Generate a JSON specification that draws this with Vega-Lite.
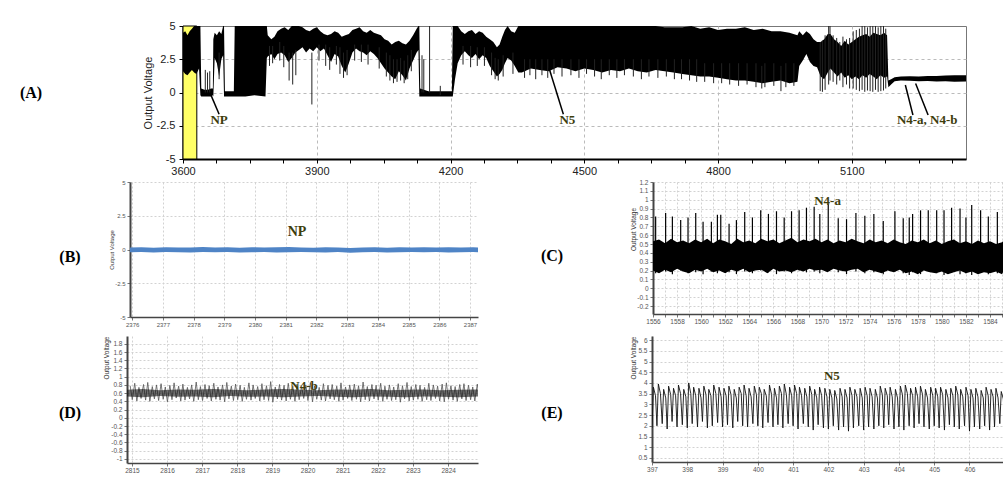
{
"$schema":"https://vega.github.io/schema/vega-lite/v6.json",
"padding":{"left":0,"top":19,"right":0,"bottom":0},
"background":"white",
"spacing":0,
"config":{
 "view":{"stroke":null},
 "axis":{"labelFont":"Liberation Sans","titleFont":"Liberation Sans","titleFontWeight":"normal","labelFontSize":6.5,"labelColor":"#555","titleFontSize":6.5,"titleColor":"#333","tickSize":3,"tickColor":"#777","labelPadding":1,"domainColor":"#444","domainWidth":1.5,"grid":true,"gridColor":"#d2d2d2","gridDash":[2,2],"labelFlush":false,"labelOverlap":false}
},
"vconcat":[
{"bounds":"flush","spacing":0,"hconcat":[
 {"width":62,"height":153,"data":{"values":[{"s":"(A)"}]},"mark":{"type":"text","font":"Liberation Serif","fontSize":16,"fontWeight":"bold","color":"#000","dy":-9.5},"encoding":{"text":{"field":"s"}}},
 {"width":121,"height":153,"data":{"values":[{"s":""}]},"mark":{"type":"text"},"encoding":{"text":{"field":"s"}}},
 {"width":783,"height":133,"view":{"stroke":"#777","strokeWidth":1},
  "encoding":{
   "x":{"field":"t","type":"quantitative","scale":{"domain":[3600,5356],"nice":false,"zero":false},"axis":{"title":null,"values":[3600,3675,3750,3825,3900,3975,4050,4125,4200,4275,4350,4425,4500,4575,4650,4725,4800,4875,4950,5025,5100,5175,5250,5325],"labelExpr":"datum.value % 300 === 0 ? '' + datum.value : ''","labelFontSize":11,"labelColor":"#222","tickColor":"#000","tickSize":4,"labelPadding":2,"domainColor":"#000","domainWidth":2,"gridColor":"#bbb","gridDash":[3,3],"gridOpacity":{"condition":{"test":"datum.value % 300 === 0 && datum.value > 3600","value":1},"value":0}}},
   "y":{"field":"v","type":"quantitative","scale":{"domain":[-5,5],"nice":false,"zero":false},"axis":{"title":"Output Voltage","titleFontSize":11,"titleColor":"#222","titlePadding":3,"values":[-5,-2.5,0,2.5,5],"labelExpr":"'' + datum.value","labelFontSize":11,"labelColor":"#222","tickColor":"#000","tickSize":4,"labelPadding":4,"domainColor":"#000","domainWidth":2,"gridColor":"#bbb","gridDash":[3,3],"gridOpacity":{"condition":{"test":"abs(datum.value) < 5","value":1},"value":0}}}
  },
  "layer":[
   {"data":{"values":[{"t":3600,"t2":3631,"v":-5,"w":5}]},"mark":{"type":"rect","fill":"#ffff66","stroke":"#000","strokeWidth":1},"encoding":{"x2":{"field":"t2"},"y2":{"field":"w"}}},
   {"data":{"values":[
{"t":3600,"v":1.6,"w":4.5},{"t":3605,"v":1.4,"w":4.6},{"t":3610,"v":1.3,"w":4.3},{"t":3615,"v":1.5,"w":4.6},{"t":3620,"v":1.7,"w":4.8},{"t":3625,"v":1.5,"w":5},{"t":3630,"v":1.4,"w":5},{"t":3636,"v":1.8,"w":5},{"t":3639,"v":-0.2,"w":5},{"t":3641,"v":-0.3,"w":0.3},{"t":3648,"v":-0.3,"w":0.2},{"t":3656,"v":-0.3,"w":0.2},{"t":3663,"v":-0.3,"w":0.3},{"t":3667,"v":-0.2,"w":0.3},{"t":3668,"v":-0.3,"w":4.0},{"t":3671,"v":2.6,"w":4.5},{"t":3676,"v":2.2,"w":4.3},{"t":3681,"v":1.2,"w":4.6},{"t":3686,"v":2.5,"w":4.4},{"t":3690,"v":2.8,"w":5},{"t":3692,"v":-0.3,"w":5},{"t":3694,"v":-0.3,"w":0.1},{"t":3714,"v":-0.3,"w":0.1},{"t":3716,"v":-0.3,"w":5},{"t":3740,"v":-0.3,"w":5},{"t":3760,"v":-0.2,"w":5},{"t":3785,"v":-0.3,"w":5},{"t":3788,"v":2.6,"w":5},{"t":3790,"v":2.7,"w":4.3},{"t":3798,"v":2.9,"w":4.0},{"t":3805,"v":2.5,"w":4.2},{"t":3812,"v":2.9,"w":4.6},{"t":3820,"v":3.0,"w":4.8},{"t":3828,"v":2.8,"w":4.9},{"t":3836,"v":2.3,"w":4.7},{"t":3844,"v":2.6,"w":5},{"t":3852,"v":3.0,"w":5},{"t":3860,"v":3.2,"w":5},{"t":3868,"v":3.4,"w":4.9},{"t":3876,"v":3.0,"w":4.7},{"t":3884,"v":3.3,"w":4.6},{"t":3892,"v":3.1,"w":4.8},{"t":3900,"v":3.4,"w":4.9},{"t":3908,"v":3.1,"w":4.6},{"t":3916,"v":3.3,"w":4.4},{"t":3924,"v":2.8,"w":4.3},{"t":3932,"v":2.3,"w":4.4},{"t":3940,"v":2.9,"w":4.6},{"t":3948,"v":2.7,"w":4.5},{"t":3956,"v":2.0,"w":4.2},{"t":3964,"v":1.5,"w":4.3},{"t":3972,"v":2.2,"w":4.4},{"t":3980,"v":3.0,"w":4.7},{"t":3988,"v":3.3,"w":4.8},{"t":3996,"v":3.1,"w":4.9},{"t":4004,"v":3.0,"w":4.6},{"t":4012,"v":2.8,"w":4.5},{"t":4020,"v":3.1,"w":4.7},{"t":4028,"v":2.9,"w":4.5},{"t":4036,"v":2.6,"w":4.4},{"t":4044,"v":2.2,"w":4.3},{"t":4052,"v":1.8,"w":4.0},{"t":4060,"v":1.5,"w":3.9},{"t":4068,"v":1.2,"w":3.6},{"t":4076,"v":1.0,"w":3.8},{"t":4084,"v":1.6,"w":3.9},{"t":4092,"v":1.3,"w":3.7},{"t":4100,"v":0.9,"w":3.6},{"t":4108,"v":1.8,"w":3.9},{"t":4116,"v":2.4,"w":4.3},{"t":4124,"v":3.0,"w":4.8},{"t":4128,"v":3.2,"w":5},{"t":4130,"v":-0.3,"w":5},{"t":4132,"v":-0.3,"w":0.3},{"t":4150,"v":-0.3,"w":0.1},{"t":4170,"v":-0.3,"w":0.1},{"t":4190,"v":-0.3,"w":0.1},{"t":4203,"v":-0.3,"w":0.1},{"t":4205,"v":-0.3,"w":5},{"t":4210,"v":1.0,"w":5},{"t":4216,"v":2.2,"w":5},{"t":4224,"v":2.8,"w":4.6},{"t":4232,"v":3.1,"w":4.4},{"t":4240,"v":2.8,"w":4.6},{"t":4248,"v":2.6,"w":4.7},{"t":4256,"v":2.9,"w":4.4},{"t":4264,"v":2.5,"w":4.6},{"t":4272,"v":2.8,"w":4.5},{"t":4280,"v":2.6,"w":4.2},{"t":4288,"v":2.0,"w":4.0},{"t":4296,"v":1.6,"w":3.8},{"t":4304,"v":1.2,"w":3.4},{"t":4310,"v":1.4,"w":3.6},{"t":4316,"v":1.7,"w":4.2},{"t":4322,"v":2.2,"w":4.7},{"t":4328,"v":2.6,"w":5},{"t":4336,"v":2.4,"w":4.6},{"t":4344,"v":2.0,"w":4.5},{"t":4352,"v":1.5,"w":5},{"t":4360,"v":1.5,"w":5},{"t":4380,"v":1.8,"w":5},{"t":4400,"v":1.7,"w":5},{"t":4420,"v":1.6,"w":5},{"t":4440,"v":1.9,"w":5},{"t":4460,"v":1.8,"w":5},{"t":4480,"v":1.6,"w":5},{"t":4500,"v":1.8,"w":5},{"t":4520,"v":1.7,"w":5},{"t":4540,"v":1.5,"w":5},{"t":4560,"v":1.7,"w":5},{"t":4580,"v":1.6,"w":5},{"t":4600,"v":1.8,"w":5},{"t":4620,"v":1.6,"w":5},{"t":4640,"v":1.5,"w":5},{"t":4660,"v":1.7,"w":5},{"t":4680,"v":1.6,"w":4.9},{"t":4700,"v":1.5,"w":4.9},{"t":4720,"v":1.4,"w":4.9},{"t":4740,"v":1.3,"w":5},{"t":4760,"v":1.2,"w":4.8},{"t":4780,"v":1.2,"w":4.9},{"t":4800,"v":1.1,"w":4.7},{"t":4820,"v":1.0,"w":4.8},{"t":4840,"v":0.9,"w":4.8},{"t":4860,"v":0.9,"w":4.9},{"t":4880,"v":0.8,"w":4.7},{"t":4900,"v":0.7,"w":4.8},{"t":4920,"v":0.8,"w":4.6},{"t":4940,"v":0.9,"w":4.6},{"t":4960,"v":0.7,"w":4.5},{"t":4978,"v":0.8,"w":4.3},{"t":4982,"v":2.0,"w":4.6},{"t":4990,"v":2.4,"w":4.3},{"t":4998,"v":2.9,"w":4.6},{"t":5006,"v":2.3,"w":4.4},{"t":5014,"v":2.0,"w":4.0},{"t":5022,"v":1.9,"w":3.8},{"t":5030,"v":1.2,"w":3.8},{"t":5038,"v":1.0,"w":4.0},{"t":5046,"v":1.5,"w":4.4},{"t":5052,"v":1.8,"w":4.4},{"t":5060,"v":1.5,"w":4.0},{"t":5068,"v":1.2,"w":3.8},{"t":5076,"v":1.5,"w":3.5},{"t":5084,"v":1.1,"w":3.9},{"t":5092,"v":1.3,"w":3.6},{"t":5100,"v":1.0,"w":3.8},{"t":5108,"v":1.2,"w":4.0},{"t":5116,"v":1.0,"w":4.2},{"t":5124,"v":1.3,"w":4.3},{"t":5132,"v":1.1,"w":4.4},{"t":5140,"v":1.4,"w":4.2},{"t":5148,"v":1.2,"w":4.5},{"t":5156,"v":1.0,"w":4.4},{"t":5164,"v":1.3,"w":4.3},{"t":5172,"v":1.1,"w":4.5},{"t":5179,"v":1.2,"w":4.3},{"t":5182,"v":0.4,"w":0.9},{"t":5188,"v":0.6,"w":1.0},{"t":5196,"v":0.85,"w":1.15},{"t":5210,"v":0.9,"w":1.2},{"t":5230,"v":0.88,"w":1.22},{"t":5250,"v":0.85,"w":1.2},{"t":5270,"v":0.86,"w":1.25},{"t":5290,"v":0.82,"w":1.25},{"t":5310,"v":0.85,"w":1.28},{"t":5330,"v":0.8,"w":1.3},{"t":5356,"v":0.82,"w":1.3}
   ]},"mark":{"type":"area","color":"#000","clip":true},"encoding":{"y2":{"field":"w"}}},
   {"data":{"values":[{"t":3650,"v":0,"w":1.7},{"t":3655,"v":0,"w":1.5},{"t":3660,"v":0,"w":1.6},{"t":3681,"v":1.0,"w":3},{"t":3794,"v":2.0,"w":3.5},{"t":3801,"v":2.2,"w":3.5},{"t":3817,"v":2.4,"w":3.8},{"t":3826,"v":1.9,"w":3.5},{"t":3838,"v":0.9,"w":3},{"t":3846,"v":0.6,"w":3},{"t":3853,"v":1.3,"w":3.2},{"t":3889,"v":-0.9,"w":3},{"t":3905,"v":2.4,"w":3.6},{"t":3920,"v":2.0,"w":3.6},{"t":3929,"v":1.7,"w":3.4},{"t":3944,"v":2.1,"w":3.5},{"t":3952,"v":1.4,"w":3.4},{"t":3960,"v":1.1,"w":3.0},{"t":3968,"v":1.3,"w":3.2},{"t":3985,"v":2.4,"w":3.6},{"t":4000,"v":2.3,"w":3.6},{"t":4015,"v":2.1,"w":3.6},{"t":4040,"v":1.8,"w":3.4},{"t":4056,"v":1.2,"w":3.0},{"t":4064,"v":0.9,"w":2.8},{"t":4072,"v":0.7,"w":2.5},{"t":4080,"v":0.8,"w":2.5},{"t":4088,"v":0.9,"w":2.6},{"t":4096,"v":0.7,"w":2.4},{"t":4104,"v":1.0,"w":2.8},{"t":4112,"v":1.6,"w":3.2},{"t":4136,"v":0,"w":2.8},{"t":4140,"v":0,"w":2.5},{"t":4153,"v":0,"w":5},{"t":4177,"v":-0.2,"w":0.5},{"t":4228,"v":2.1,"w":3.5},{"t":4245,"v":1.9,"w":3.5},{"t":4260,"v":2.0,"w":3.4},{"t":4276,"v":2.0,"w":3.4},{"t":4292,"v":1.3,"w":3.0},{"t":4300,"v":1.0,"w":2.6},{"t":4307,"v":0.9,"w":2.5},{"t":4318,"v":1.2,"w":2.8},{"t":4340,"v":1.4,"w":3},{"t":4366,"v":1.1,"w":2.5},{"t":4378,"v":1.3,"w":2.5},{"t":4391,"v":1.0,"w":2.5},{"t":4405,"v":1.3,"w":2.5},{"t":4418,"v":1.1,"w":2.5},{"t":4432,"v":1.4,"w":2.5},{"t":4450,"v":1.2,"w":2.5},{"t":4470,"v":1.3,"w":2.5},{"t":4488,"v":1.1,"w":2.5},{"t":4505,"v":1.4,"w":2.5},{"t":4523,"v":1.2,"w":2.5},{"t":4538,"v":1.0,"w":2.5},{"t":4556,"v":1.3,"w":2.5},{"t":4573,"v":1.1,"w":2.5},{"t":4590,"v":1.3,"w":2.5},{"t":4610,"v":1.2,"w":2.5},{"t":4628,"v":1.0,"w":2.5},{"t":4645,"v":1.2,"w":2.5},{"t":4665,"v":1.1,"w":2.5},{"t":4684,"v":1.2,"w":2.5},{"t":4702,"v":1.0,"w":2.5},{"t":4718,"v":1.0,"w":2.5},{"t":4736,"v":0.9,"w":2.5},{"t":4752,"v":0.8,"w":2.5},{"t":4770,"v":0.8,"w":2.2},{"t":4790,"v":0.7,"w":2.2},{"t":4808,"v":0.7,"w":2.2},{"t":4826,"v":0.6,"w":2.2},{"t":4846,"v":0.5,"w":2.2},{"t":4865,"v":0.6,"w":2.2},{"t":4885,"v":0.4,"w":2.2},{"t":4898,"v":0.3,"w":2},{"t":4905,"v":0.4,"w":2.2},{"t":4925,"v":0.5,"w":2.2},{"t":4941,"v":0.1,"w":2},{"t":4952,"v":0.4,"w":2.2},{"t":4970,"v":0.5,"w":2.2},{"t":5029,"v":0.1,"w":3.8},{"t":5034,"v":0.05,"w":3.9},{"t":5040,"v":0.2,"w":4.3},{"t":5048,"v":0.6,"w":5},{"t":5051,"v":0.9,"w":5},{"t":5058,"v":0.8,"w":4.3},{"t":5066,"v":0.6,"w":4.1},{"t":5073,"v":0.9,"w":3.8},{"t":5080,"v":0.4,"w":4.2},{"t":5088,"v":0.6,"w":4.0},{"t":5095,"v":0.3,"w":4.1},{"t":5103,"v":0.3,"w":4.6},{"t":5110,"v":0.2,"w":4.7},{"t":5117,"v":0.1,"w":4.8},{"t":5123,"v":0.2,"w":5},{"t":5129,"v":0.05,"w":5},{"t":5135,"v":0.15,"w":4.9},{"t":5141,"v":0.1,"w":5},{"t":5147,"v":0.05,"w":5},{"t":5153,"v":0.2,"w":5},{"t":5159,"v":0.05,"w":4.9},{"t":5165,"v":0.1,"w":5},{"t":5171,"v":0.15,"w":5},{"t":5176,"v":0.3,"w":4.8}]},"mark":{"type":"rule","color":"#222","strokeWidth":1},"encoding":{"y2":{"field":"w"}}},
   {"data":{"values":[{"t":3662,"t2":3681,"v":-0.14,"w":-1.64},{"t":4421,"t2":4453,"v":1.82,"w":-1.64},{"t":5220,"t2":5237,"v":0.56,"w":-1.69},{"t":5243,"t2":5271,"v":0.68,"w":-1.69}]},"mark":{"type":"rule","color":"#000","strokeWidth":1.5},"encoding":{"x2":{"field":"t2"},"y2":{"field":"w"}}},
   {"data":{"values":[{"t":3681,"v":-2.07,"s":"NP"},{"t":4462,"v":-2.07,"s":"N5"},{"t":5269,"v":-2.07,"s":"N4-a, N4-b"}]},"mark":{"type":"text","font":"Liberation Serif","fontSize":13,"fontWeight":"bold","color":"#3d3d0d"},"encoding":{"text":{"field":"s"}}}
  ]
 }
]},
{"bounds":"flush","spacing":0,"hconcat":[
 {"width":130,"height":153,"data":{"values":[{"s":"(B)"}]},"mark":{"type":"text","font":"Liberation Serif","fontSize":16,"fontWeight":"bold","color":"#000","dx":5,"dy":-1.5},"encoding":{"text":{"field":"s"}}},
 {"width":348,"height":135,
  "encoding":{
   "x":{"field":"t","type":"quantitative","scale":{"domain":[2375.93,2387.26],"nice":false,"zero":false},"axis":{"title":null,"values":[2376,2377,2378,2379,2380,2381,2382,2383,2384,2385,2386,2387],"format":"d","labelFontSize":6,"labelPadding":1}},
   "y":{"field":"v","type":"quantitative","scale":{"domain":[-5,5],"nice":false,"zero":false},"axis":{"title":"Output Voltage","titleFontSize":6,"titlePadding":0,"values":[-5,-2.5,0,2.5,5],"labelExpr":"'' + datum.value","labelFontSize":6,"labelPadding":2,"domainWidth":2}}
  },
  "layer":[
   {"data":{"values":[{"t":2375.93,"v":-0.21,"w":0.14},{"t":2376.3,"v":-0.19,"w":0.16},{"t":2376.7,"v":-0.22,"w":0.13},{"t":2377.1,"v":-0.18,"w":0.17},{"t":2377.5,"v":-0.2,"w":0.15},{"t":2377.9,"v":-0.23,"w":0.14},{"t":2378.3,"v":-0.19,"w":0.18},{"t":2378.7,"v":-0.21,"w":0.15},{"t":2379.1,"v":-0.18,"w":0.16},{"t":2379.5,"v":-0.22,"w":0.13},{"t":2379.9,"v":-0.2,"w":0.17},{"t":2380.3,"v":-0.19,"w":0.14},{"t":2380.7,"v":-0.23,"w":0.16},{"t":2381.1,"v":-0.2,"w":0.18},{"t":2381.5,"v":-0.18,"w":0.15},{"t":2381.9,"v":-0.21,"w":0.13},{"t":2382.3,"v":-0.22,"w":0.16},{"t":2382.7,"v":-0.19,"w":0.15},{"t":2383.1,"v":-0.24,"w":0.12},{"t":2383.5,"v":-0.21,"w":0.14},{"t":2383.9,"v":-0.19,"w":0.16},{"t":2384.3,"v":-0.22,"w":0.13},{"t":2384.7,"v":-0.2,"w":0.17},{"t":2385.1,"v":-0.18,"w":0.15},{"t":2385.5,"v":-0.21,"w":0.16},{"t":2385.9,"v":-0.19,"w":0.14},{"t":2386.3,"v":-0.22,"w":0.17},{"t":2386.7,"v":-0.2,"w":0.15},{"t":2387.1,"v":-0.19,"w":0.16},{"t":2387.26,"v":-0.21,"w":0.15}]},"mark":{"type":"area","color":"#4f84c6","clip":true},"encoding":{"y2":{"field":"w"}}},
   {"data":{"values":[{"t":2381.37,"v":1.3,"s":"NP"}]},"mark":{"type":"text","font":"Liberation Serif","fontSize":14,"fontWeight":"bold","color":"#3d3d0d"},"encoding":{"text":{"field":"s"}}}
  ]
 },
 {"width":175,"height":153,"data":{"values":[{"s":"(C)"}]},"mark":{"type":"text","font":"Liberation Serif","fontSize":16,"fontWeight":"bold","color":"#000","dx":-13.5,"dy":-2.5},"encoding":{"text":{"field":"s"}}},
 {"width":350,"height":132,
  "encoding":{
   "x":{"field":"t","type":"quantitative","scale":{"domain":[1556,1585.08],"nice":false,"zero":false},"axis":{"title":null,"values":[1556,1557,1558,1559,1560,1561,1562,1563,1564,1565,1566,1567,1568,1569,1570,1571,1572,1573,1574,1575,1576,1577,1578,1579,1580,1581,1582,1583,1584,1585],"labelExpr":"datum.value % 2 === 0 ? '' + datum.value : ''"}},
   "y":{"field":"v","type":"quantitative","scale":{"domain":[-0.29,1.2],"nice":false,"zero":false},"axis":{"title":"Output Voltage","titlePadding":0,"titleY":47,"values":[-0.2,-0.1,0,0.1,0.2,0.3,0.4,0.5,0.6,0.7,0.8,0.9,1,1.1,1.2],"labelExpr":"'' + datum.value","labelPadding":2,"domainWidth":2}}
  },
  "layer":[
   {"data":{"values":[{"t":1556,"v":0.2,"w":0.53},{"t":1556.5,"v":0.17,"w":0.55},{"t":1557,"v":0.21,"w":0.51},{"t":1557.5,"v":0.18,"w":0.56},{"t":1558,"v":0.22,"w":0.52},{"t":1558.5,"v":0.19,"w":0.54},{"t":1559,"v":0.17,"w":0.51},{"t":1559.5,"v":0.21,"w":0.55},{"t":1560,"v":0.19,"w":0.52},{"t":1560.5,"v":0.22,"w":0.56},{"t":1561,"v":0.18,"w":0.51},{"t":1561.5,"v":0.2,"w":0.55},{"t":1562,"v":0.17,"w":0.53},{"t":1562.5,"v":0.21,"w":0.5},{"t":1563,"v":0.19,"w":0.56},{"t":1563.5,"v":0.22,"w":0.52},{"t":1564,"v":0.18,"w":0.54},{"t":1564.5,"v":0.2,"w":0.51},{"t":1565,"v":0.21,"w":0.56},{"t":1565.5,"v":0.17,"w":0.53},{"t":1566,"v":0.22,"w":0.55},{"t":1566.5,"v":0.19,"w":0.51},{"t":1567,"v":0.2,"w":0.54},{"t":1567.5,"v":0.18,"w":0.57},{"t":1568,"v":0.21,"w":0.52},{"t":1568.5,"v":0.19,"w":0.55},{"t":1569,"v":0.22,"w":0.53},{"t":1569.5,"v":0.2,"w":0.56},{"t":1570,"v":0.21,"w":0.52},{"t":1570.5,"v":0.18,"w":0.55},{"t":1571,"v":0.22,"w":0.51},{"t":1571.5,"v":0.2,"w":0.54},{"t":1572,"v":0.19,"w":0.52},{"t":1572.5,"v":0.21,"w":0.56},{"t":1573,"v":0.22,"w":0.53},{"t":1573.5,"v":0.18,"w":0.51},{"t":1574,"v":0.21,"w":0.55},{"t":1574.5,"v":0.19,"w":0.52},{"t":1575,"v":0.17,"w":0.54},{"t":1575.5,"v":0.2,"w":0.51},{"t":1576,"v":0.18,"w":0.55},{"t":1576.5,"v":0.21,"w":0.52},{"t":1577,"v":0.17,"w":0.5},{"t":1577.5,"v":0.19,"w":0.54},{"t":1578,"v":0.16,"w":0.52},{"t":1578.5,"v":0.2,"w":0.55},{"t":1579,"v":0.18,"w":0.51},{"t":1579.5,"v":0.17,"w":0.54},{"t":1580,"v":0.19,"w":0.5},{"t":1580.5,"v":0.16,"w":0.53},{"t":1581,"v":0.18,"w":0.55},{"t":1581.5,"v":0.2,"w":0.51},{"t":1582,"v":0.17,"w":0.53},{"t":1582.5,"v":0.19,"w":0.5},{"t":1583,"v":0.16,"w":0.54},{"t":1583.5,"v":0.18,"w":0.51},{"t":1584,"v":0.17,"w":0.53},{"t":1584.5,"v":0.19,"w":0.5},{"t":1585,"v":0.16,"w":0.52},{"t":1585.08,"v":0.18,"w":0.53}]},"mark":{"type":"area","color":"#000","clip":true},"encoding":{"y2":{"field":"w"}}},
   {"data":{"values":[{"t":1556.22,"v":0.17,"w":0.81},{"t":1557.05,"v":0.19,"w":0.85},{"t":1557.61,"v":0.16,"w":0.81},{"t":1558.3,"v":0.2,"w":0.77},{"t":1558.91,"v":0.17,"w":0.8},{"t":1559.55,"v":0.18,"w":0.85},{"t":1560.16,"v":0.16,"w":0.75},{"t":1560.85,"v":0.19,"w":0.75},{"t":1561.35,"v":0.17,"w":0.83},{"t":1561.63,"v":0.2,"w":0.83},{"t":1562.32,"v":0.18,"w":0.73},{"t":1562.93,"v":0.16,"w":0.77},{"t":1563.62,"v":0.19,"w":0.86},{"t":1564.26,"v":0.17,"w":0.8},{"t":1564.95,"v":0.2,"w":0.88},{"t":1565.59,"v":0.18,"w":0.84},{"t":1566.26,"v":0.16,"w":0.87},{"t":1566.9,"v":0.19,"w":0.8},{"t":1567.51,"v":0.17,"w":0.87},{"t":1568.14,"v":0.2,"w":0.88},{"t":1568.75,"v":0.18,"w":0.91},{"t":1569.39,"v":0.19,"w":0.92},{"t":1569.86,"v":0.17,"w":0.84},{"t":1570.56,"v":0.2,"w":0.95},{"t":1571.39,"v":0.18,"w":0.79},{"t":1572.08,"v":0.16,"w":0.78},{"t":1572.86,"v":0.19,"w":0.85},{"t":1573.6,"v":0.17,"w":0.82},{"t":1574.35,"v":0.18,"w":0.84},{"t":1575.13,"v":0.16,"w":0.76},{"t":1576.1,"v":0.19,"w":0.87},{"t":1576.79,"v":0.17,"w":0.79},{"t":1577.29,"v":0.15,"w":0.8},{"t":1577.57,"v":0.18,"w":0.84},{"t":1578.23,"v":0.16,"w":0.88},{"t":1578.87,"v":0.19,"w":0.88},{"t":1579.57,"v":0.17,"w":0.88},{"t":1580.18,"v":0.15,"w":0.88},{"t":1580.81,"v":0.18,"w":0.91},{"t":1581.51,"v":0.16,"w":0.9},{"t":1582.0,"v":0.17,"w":0.8},{"t":1582.48,"v":0.15,"w":0.94},{"t":1583.22,"v":0.18,"w":0.88},{"t":1583.86,"v":0.16,"w":0.81},{"t":1584.61,"v":0.17,"w":0.86}]},"mark":{"type":"rule","color":"#000","strokeWidth":1.2},"encoding":{"y2":{"field":"w"}}},
   {"data":{"values":[{"t":1570.5,"v":0.99,"s":"N4-a"}]},"mark":{"type":"text","font":"Liberation Serif","fontSize":13,"fontWeight":"bold","color":"#3d3d0d"},"encoding":{"text":{"field":"s"}}}
  ]
 }
]},
{"bounds":"flush","spacing":0,"hconcat":[
 {"width":127,"height":127,"data":{"values":[{"s":"(D)"}]},"mark":{"type":"text","font":"Liberation Serif","fontSize":16,"fontWeight":"bold","color":"#000","dx":6.5,"dy":13.5},"encoding":{"text":{"field":"s"}}},
 {"width":351,"height":127,
  "encoding":{
   "x":{"field":"t","type":"quantitative","scale":{"domain":[2814.86,2824.85],"nice":false,"zero":false},"axis":{"title":null,"values":[2815,2816,2817,2818,2819,2820,2821,2822,2823,2824],"format":"d"}},
   "y":{"field":"v","type":"quantitative","scale":{"domain":[-1.1,1.99],"nice":false,"zero":false},"axis":{"title":"Output Voltage","titlePadding":1,"titleAnchor":"end","values":[-1,-0.8,-0.6,-0.4,-0.2,0,0.2,0.4,0.6,0.8,1,1.2,1.4,1.6,1.8],"labelExpr":"'' + datum.value","labelPadding":2,"domainWidth":2}}
  },
  "layer":[
   {"data":{"values":[
{"t":2814.95,"v":0.78},{"t":2815.01,"v":0.44},{"t":2815.08,"v":0.84},{"t":2815.14,"v":0.41},{"t":2815.2,"v":0.74},{"t":2815.26,"v":0.47},{"t":2815.33,"v":0.81},{"t":2815.39,"v":0.43},{"t":2815.45,"v":0.86},{"t":2815.51,"v":0.4},{"t":2815.58,"v":0.76},{"t":2815.64,"v":0.46},{"t":2815.7,"v":0.8},{"t":2815.76,"v":0.42},{"t":2815.83,"v":0.83},{"t":2815.89,"v":0.45},
{"t":2815.95,"v":0.75},{"t":2816.01,"v":0.39},{"t":2816.08,"v":0.79},{"t":2816.14,"v":0.44},{"t":2816.2,"v":0.85},{"t":2816.26,"v":0.48},{"t":2816.33,"v":0.77},{"t":2816.39,"v":0.41},{"t":2816.45,"v":0.82},{"t":2816.51,"v":0.43},{"t":2816.58,"v":0.74},{"t":2816.64,"v":0.46},{"t":2816.7,"v":0.8},{"t":2816.76,"v":0.4},{"t":2816.83,"v":0.87},{"t":2816.89,"v":0.44},
{"t":2816.95,"v":0.76},{"t":2817.01,"v":0.42},{"t":2817.08,"v":0.81},{"t":2817.14,"v":0.47},{"t":2817.2,"v":0.78},{"t":2817.26,"v":0.41},{"t":2817.33,"v":0.84},{"t":2817.39,"v":0.45},{"t":2817.45,"v":0.75},{"t":2817.51,"v":0.43},{"t":2817.58,"v":0.8},{"t":2817.64,"v":0.39},{"t":2817.7,"v":0.86},{"t":2817.76,"v":0.46},{"t":2817.83,"v":0.77},{"t":2817.89,"v":0.42},
{"t":2817.95,"v":0.82},{"t":2818.01,"v":0.44},{"t":2818.08,"v":0.79},{"t":2818.14,"v":0.4},{"t":2818.2,"v":0.74},{"t":2818.26,"v":0.45},{"t":2818.33,"v":0.85},{"t":2818.39,"v":0.43},{"t":2818.45,"v":0.8},{"t":2818.51,"v":0.47},{"t":2818.58,"v":0.76},{"t":2818.64,"v":0.41},{"t":2818.7,"v":0.83},{"t":2818.76,"v":0.44},{"t":2818.83,"v":0.78},{"t":2818.89,"v":0.42},
{"t":2818.95,"v":0.88},{"t":2819.01,"v":0.38},{"t":2819.08,"v":0.75},{"t":2819.14,"v":0.46},{"t":2819.2,"v":0.81},{"t":2819.26,"v":0.43},{"t":2819.33,"v":0.79},{"t":2819.39,"v":0.41},{"t":2819.45,"v":0.84},{"t":2819.51,"v":0.45},{"t":2819.58,"v":0.77},{"t":2819.64,"v":0.4},{"t":2819.7,"v":0.82},{"t":2819.76,"v":0.44},{"t":2819.83,"v":0.76},{"t":2819.89,"v":0.47},
{"t":2819.95,"v":0.8},{"t":2820.01,"v":0.42},{"t":2820.08,"v":0.86},{"t":2820.14,"v":0.39},{"t":2820.2,"v":0.78},{"t":2820.26,"v":0.45},{"t":2820.33,"v":0.74},{"t":2820.39,"v":0.43},{"t":2820.45,"v":0.83},{"t":2820.51,"v":0.41},{"t":2820.58,"v":0.79},{"t":2820.64,"v":0.46},{"t":2820.7,"v":0.81},{"t":2820.76,"v":0.44},{"t":2820.83,"v":0.77},{"t":2820.89,"v":0.4},
{"t":2820.95,"v":0.85},{"t":2821.01,"v":0.43},{"t":2821.08,"v":0.75},{"t":2821.14,"v":0.47},{"t":2821.2,"v":0.8},{"t":2821.26,"v":0.42},{"t":2821.33,"v":0.82},{"t":2821.39,"v":0.45},{"t":2821.45,"v":0.78},{"t":2821.51,"v":0.39},{"t":2821.58,"v":0.87},{"t":2821.64,"v":0.44},{"t":2821.7,"v":0.76},{"t":2821.76,"v":0.41},{"t":2821.83,"v":0.81},{"t":2821.89,"v":0.46},
{"t":2821.95,"v":0.79},{"t":2822.01,"v":0.43},{"t":2822.08,"v":0.84},{"t":2822.14,"v":0.4},{"t":2822.2,"v":0.77},{"t":2822.26,"v":0.45},{"t":2822.33,"v":0.8},{"t":2822.39,"v":0.42},{"t":2822.45,"v":0.75},{"t":2822.51,"v":0.44},{"t":2822.58,"v":0.83},{"t":2822.64,"v":0.38},{"t":2822.7,"v":0.78},{"t":2822.76,"v":0.46},{"t":2822.83,"v":0.86},{"t":2822.89,"v":0.41},
{"t":2822.95,"v":0.76},{"t":2823.01,"v":0.43},{"t":2823.08,"v":0.81},{"t":2823.14,"v":0.45},{"t":2823.2,"v":0.79},{"t":2823.26,"v":0.4},{"t":2823.33,"v":0.74},{"t":2823.39,"v":0.44},{"t":2823.45,"v":0.84},{"t":2823.51,"v":0.42},{"t":2823.58,"v":0.8},{"t":2823.64,"v":0.47},{"t":2823.7,"v":0.77},{"t":2823.76,"v":0.41},{"t":2823.83,"v":0.82},{"t":2823.89,"v":0.39},
{"t":2823.95,"v":0.85},{"t":2824.01,"v":0.45},{"t":2824.08,"v":0.78},{"t":2824.14,"v":0.43},{"t":2824.2,"v":0.76},{"t":2824.26,"v":0.4},{"t":2824.33,"v":0.81},{"t":2824.39,"v":0.46},{"t":2824.45,"v":0.83},{"t":2824.51,"v":0.42},{"t":2824.58,"v":0.79},{"t":2824.64,"v":0.44},{"t":2824.7,"v":0.75},{"t":2824.76,"v":0.41},{"t":2824.83,"v":0.82},{"t":2824.89,"v":0.45}
   ]},"mark":{"type":"line","color":"#555","strokeWidth":0.8,"clip":true}},
   {"data":{"values":[{"t":2814.86,"v":0.52,"w":0.68},{"t":2815.3,"v":0.5,"w":0.7},{"t":2815.8,"v":0.53,"w":0.67},{"t":2816.3,"v":0.51,"w":0.69},{"t":2816.8,"v":0.52,"w":0.68},{"t":2817.3,"v":0.5,"w":0.7},{"t":2817.8,"v":0.53,"w":0.68},{"t":2818.3,"v":0.51,"w":0.67},{"t":2818.8,"v":0.52,"w":0.69},{"t":2819.3,"v":0.5,"w":0.7},{"t":2819.8,"v":0.52,"w":0.68},{"t":2820.3,"v":0.53,"w":0.67},{"t":2820.8,"v":0.51,"w":0.69},{"t":2821.3,"v":0.5,"w":0.68},{"t":2821.8,"v":0.52,"w":0.7},{"t":2822.3,"v":0.51,"w":0.67},{"t":2822.8,"v":0.5,"w":0.68},{"t":2823.3,"v":0.52,"w":0.69},{"t":2823.8,"v":0.51,"w":0.67},{"t":2824.3,"v":0.5,"w":0.68},{"t":2824.85,"v":0.52,"w":0.69}]},"mark":{"type":"area","color":"#111","opacity":0.6,"clip":true},"encoding":{"y2":{"field":"w"}}},
   {"data":{"values":[{"t":2819.9,"v":0.78,"s":"N4-b"}]},"mark":{"type":"text","font":"Liberation Serif","fontSize":13,"fontWeight":"bold","color":"#3d3d0d"},"encoding":{"text":{"field":"s"}}}
  ]
 },
 {"width":174,"height":127,"data":{"values":[{"s":"(E)"}]},"mark":{"type":"text","font":"Liberation Serif","fontSize":16,"fontWeight":"bold","color":"#000","dx":-13,"dy":13.5},"encoding":{"text":{"field":"s"}}},
 {"width":351,"height":126,
  "encoding":{
   "x":{"field":"t","type":"quantitative","scale":{"domain":[397,406.95],"nice":false,"zero":false},"axis":{"title":null,"values":[397,398,399,400,401,402,403,404,405,406],"format":"d"}},
   "y":{"field":"v","type":"quantitative","scale":{"domain":[0.31,6.19],"nice":false,"zero":false},"axis":{"title":"Output Voltage","titlePadding":1,"titleAnchor":"end","values":[0.5,1,1.5,2,2.5,3,3.5,4,4.5,5,5.5,6],"labelExpr":"'' + datum.value","labelPadding":2,"domainWidth":2}}
  },
  "layer":[
   {"data":{"values":[
{"t":397,"v":1.9},{"t":397.04,"v":3.8},{"t":397.1,"v":3.4},{"t":397.14,"v":2.0},{"t":397.18,"v":3.95},{"t":397.24,"v":3.5},{"t":397.29,"v":2.1},{"t":397.33,"v":3.7},{"t":397.39,"v":3.3},{"t":397.43,"v":1.85},{"t":397.47,"v":3.85},{"t":397.53,"v":3.45},{"t":397.57,"v":2.2},{"t":397.61,"v":3.75},{"t":397.67,"v":3.4},{"t":397.71,"v":1.95},{"t":397.75,"v":3.9},{"t":397.81,"v":3.5},{"t":397.86,"v":2.05},{"t":397.9,"v":3.7},{"t":397.96,"v":3.35},
{"t":398,"v":1.9},{"t":398.04,"v":4.0},{"t":398.1,"v":3.5},{"t":398.14,"v":2.1},{"t":398.18,"v":3.8},{"t":398.24,"v":3.4},{"t":398.29,"v":1.95},{"t":398.33,"v":3.75},{"t":398.39,"v":3.3},{"t":398.43,"v":2.2},{"t":398.47,"v":3.85},{"t":398.53,"v":3.45},{"t":398.57,"v":1.9},{"t":398.61,"v":3.7},{"t":398.67,"v":3.4},{"t":398.71,"v":2.0},{"t":398.75,"v":3.9},{"t":398.81,"v":3.5},{"t":398.86,"v":2.15},{"t":398.9,"v":3.8},{"t":398.96,"v":3.35},
{"t":399,"v":1.95},{"t":399.04,"v":3.75},{"t":399.1,"v":3.4},{"t":399.14,"v":2.05},{"t":399.18,"v":3.85},{"t":399.24,"v":3.45},{"t":399.29,"v":1.9},{"t":399.33,"v":3.7},{"t":399.39,"v":3.3},{"t":399.43,"v":2.2},{"t":399.47,"v":3.8},{"t":399.53,"v":3.5},{"t":399.57,"v":2.0},{"t":399.61,"v":3.9},{"t":399.67,"v":3.4},{"t":399.71,"v":1.95},{"t":399.75,"v":3.75},{"t":399.81,"v":3.35},{"t":399.86,"v":2.1},{"t":399.9,"v":3.85},{"t":399.96,"v":3.45},
{"t":400,"v":2.0},{"t":400.04,"v":3.8},{"t":400.1,"v":3.5},{"t":400.14,"v":1.9},{"t":400.18,"v":3.7},{"t":400.24,"v":3.4},{"t":400.29,"v":2.15},{"t":400.33,"v":3.9},{"t":400.39,"v":3.45},{"t":400.43,"v":1.95},{"t":400.47,"v":3.75},{"t":400.53,"v":3.3},{"t":400.57,"v":2.05},{"t":400.61,"v":3.85},{"t":400.67,"v":3.5},{"t":400.71,"v":1.9},{"t":400.75,"v":3.95},{"t":400.81,"v":3.45},{"t":400.86,"v":2.1},{"t":400.9,"v":3.8},{"t":400.96,"v":3.4},
{"t":401,"v":2.0},{"t":401.04,"v":3.9},{"t":401.1,"v":3.5},{"t":401.14,"v":1.85},{"t":401.18,"v":3.8},{"t":401.24,"v":3.4},{"t":401.29,"v":2.1},{"t":401.33,"v":3.75},{"t":401.39,"v":3.35},{"t":401.43,"v":1.95},{"t":401.47,"v":3.85},{"t":401.53,"v":3.45},{"t":401.57,"v":1.8},{"t":401.61,"v":3.7},{"t":401.67,"v":3.3},{"t":401.71,"v":2.05},{"t":401.75,"v":3.8},{"t":401.81,"v":3.4},{"t":401.86,"v":1.9},{"t":401.9,"v":3.75},{"t":401.96,"v":3.35},
{"t":402,"v":1.85},{"t":402.04,"v":3.7},{"t":402.1,"v":3.3},{"t":402.14,"v":2.0},{"t":402.18,"v":3.65},{"t":402.24,"v":3.25},{"t":402.29,"v":1.8},{"t":402.33,"v":3.75},{"t":402.39,"v":3.35},{"t":402.43,"v":1.95},{"t":402.47,"v":3.7},{"t":402.53,"v":3.3},{"t":402.57,"v":1.75},{"t":402.61,"v":3.8},{"t":402.67,"v":3.4},{"t":402.71,"v":1.9},{"t":402.75,"v":3.7},{"t":402.81,"v":3.35},{"t":402.86,"v":2.0},{"t":402.9,"v":3.75},{"t":402.96,"v":3.3},
{"t":403,"v":1.8},{"t":403.04,"v":3.8},{"t":403.1,"v":3.4},{"t":403.14,"v":1.95},{"t":403.18,"v":3.75},{"t":403.24,"v":3.35},{"t":403.29,"v":1.85},{"t":403.33,"v":3.7},{"t":403.39,"v":3.3},{"t":403.43,"v":2.0},{"t":403.47,"v":3.85},{"t":403.53,"v":3.45},{"t":403.57,"v":1.9},{"t":403.61,"v":3.75},{"t":403.67,"v":3.4},{"t":403.71,"v":2.05},{"t":403.75,"v":3.8},{"t":403.81,"v":3.35},{"t":403.86,"v":1.85},{"t":403.9,"v":3.7},{"t":403.96,"v":3.3},
{"t":404,"v":1.95},{"t":404.04,"v":3.85},{"t":404.1,"v":3.45},{"t":404.14,"v":1.8},{"t":404.18,"v":3.9},{"t":404.24,"v":3.5},{"t":404.29,"v":2.0},{"t":404.33,"v":3.75},{"t":404.39,"v":3.4},{"t":404.43,"v":1.9},{"t":404.47,"v":3.8},{"t":404.53,"v":3.35},{"t":404.57,"v":2.1},{"t":404.61,"v":3.85},{"t":404.67,"v":3.45},{"t":404.71,"v":1.95},{"t":404.75,"v":3.7},{"t":404.81,"v":3.3},{"t":404.86,"v":1.85},{"t":404.9,"v":3.8},{"t":404.96,"v":3.4},
{"t":405,"v":2.0},{"t":405.04,"v":3.75},{"t":405.1,"v":3.35},{"t":405.14,"v":1.9},{"t":405.18,"v":3.8},{"t":405.24,"v":3.45},{"t":405.29,"v":1.8},{"t":405.33,"v":3.7},{"t":405.39,"v":3.3},{"t":405.43,"v":2.05},{"t":405.47,"v":3.75},{"t":405.53,"v":3.4},{"t":405.57,"v":1.95},{"t":405.61,"v":3.85},{"t":405.67,"v":3.45},{"t":405.71,"v":1.85},{"t":405.75,"v":3.7},{"t":405.81,"v":3.35},{"t":405.86,"v":2.0},{"t":405.9,"v":3.8},{"t":405.96,"v":3.4},
{"t":406,"v":1.75},{"t":406.04,"v":3.7},{"t":406.1,"v":3.3},{"t":406.14,"v":1.95},{"t":406.18,"v":3.75},{"t":406.24,"v":3.35},{"t":406.29,"v":1.85},{"t":406.33,"v":3.65},{"t":406.39,"v":3.3},{"t":406.43,"v":2.0},{"t":406.47,"v":3.8},{"t":406.53,"v":3.4},{"t":406.57,"v":1.8},{"t":406.61,"v":3.7},{"t":406.67,"v":3.35},{"t":406.71,"v":1.95},{"t":406.75,"v":3.75},{"t":406.81,"v":3.3},{"t":406.86,"v":2.1},{"t":406.9,"v":3.6},{"t":406.96,"v":3.25},{"t":407,"v":1.9}
   ]},"mark":{"type":"line","color":"#111","strokeWidth":0.9,"clip":true}},
   {"data":{"values":[{"t":402.1,"v":4.33,"s":"N5"}]},"mark":{"type":"text","font":"Liberation Serif","fontSize":13,"fontWeight":"bold","color":"#3d3d0d"},"encoding":{"text":{"field":"s"}}}
  ]
 }
]}
]
}
